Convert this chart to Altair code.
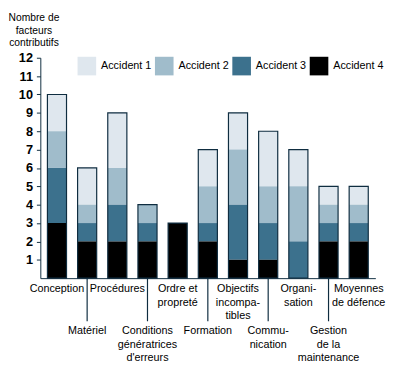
import altair as alt
import pandas as pd

categories = ["Conception", "Matériel", "Procédures", "Conditions", "Ordre", "Formation",
              "Objectifs", "Communication", "Organisation", "Gestion", "Moyennes"]
labels = ["Conception", "Matériel", "Procédures", "Conditions\ngénératrices\nd'erreurs",
          "Ordre et\npropreté", "Formation", "Objectifs\nincompa-\ntibles", "Commu-\nnication",
          "Organi-\nsation", "Gestion\nde la\nmaintenance", "Moyennes\nde défence"]
series = ["Accident 1", "Accident 2", "Accident 3", "Accident 4"]
acc1 = [2, 2, 3, 0, 0, 2, 2, 3, 2, 1, 1]
acc2 = [2, 1, 2, 1, 0, 2, 3, 2, 3, 1, 1]
acc3 = [3, 1, 2, 1, 0, 1, 3, 2, 2, 1, 1]
acc4 = [3, 2, 2, 2, 3, 2, 1, 1, 0, 2, 2]
yticks = list(range(1, 13))
colors = ["#dfe7ee", "#a0bccb", "#3c718d", "#000000"]
NAVY = "#0f2d40"

rows = []
for s, vals, o in zip(series, [acc1, acc2, acc3, acc4], [3, 2, 1, 0]):
    for c, v in zip(categories, vals):
        if v > 0:
            rows.append({"cat": c, "series": s, "value": v, "ord": o})
df = pd.DataFrame(rows)

tot = pd.DataFrame({"cat": categories,
                    "total": [a + b + c + d for a, b, c, d in zip(acc1, acc2, acc3, acc4)]})
lab = pd.DataFrame({"cat": categories, "label": labels,
                    "level": [i % 2 for i in range(len(categories))]})

FONT = "Liberation Sans"

xenc = alt.X("cat:N", sort=categories,
             scale=alt.Scale(paddingInner=0.367, paddingOuter=0.235),
             axis=alt.Axis(labels=False, ticks=False, title=None, domainColor=NAVY))
yscale = alt.Scale(domain=[0, 12], nice=False)
yaxis = alt.Axis(values=yticks,
                 title=["Nombre de", "facteurs", "contributifs"],
                 titleAngle=0, titleAlign="center", titleBaseline="alphabetic",
                 titleX=-7, titleY=-38, titleFont=FONT, titleFontSize=10.5,
                 titleFontWeight="normal", titleLineHeight=13, titleColor="black",
                 labelFont=FONT, labelFontWeight="bold",
                 labelFontSize=13, labelColor="black", labelOverlap=False,
                 labelBound=False, labelFlush=False,
                 tickColor=NAVY, domainColor=NAVY, tickSize=4, labelPadding=4,
                 grid=False)

bars = alt.Chart(df).mark_bar().encode(
    x=xenc,
    y=alt.Y("value:Q", stack="zero", scale=yscale, axis=yaxis),
    color=alt.Color("series:N", scale=alt.Scale(domain=series, range=colors),
                    legend=alt.Legend(title=None, orient="none", legendX=38, legendY=-1,
                                      direction="horizontal", columns=4, symbolType="square",
                                      symbolSize=361, symbolStrokeWidth=0, labelFont=FONT,
                                      labelFontSize=11, labelColor="black", labelOffset=5,
                                      columnPadding=3, padding=0)),
    order=alt.Order("ord:Q"),
)

outline = alt.Chart(tot).mark_bar(fillOpacity=0, stroke=NAVY, strokeWidth=1.2).encode(
    x=alt.X("cat:N", sort=categories, axis=alt.Axis(labels=False, ticks=False, title=None,
                                                     domainColor=NAVY)),
    y=alt.Y("total:Q", scale=yscale, axis=yaxis),
)

rules = alt.Chart(lab).transform_filter("datum.level == 1").mark_rule(
    color=NAVY, strokeWidth=1.2).encode(
    x=alt.X("cat:N", sort=categories), y=alt.value(225), y2=alt.value(269))

text_base = alt.Chart(lab).mark_text(font=FONT, fontSize=11, lineBreak="\n", lineHeight=14,
                                      baseline="top", align="center", color="black")
text_even = text_base.transform_filter("datum.level == 0").encode(
    x=alt.X("cat:N", sort=categories), y=alt.value(230), text="label:N")
text_odd = text_base.transform_filter("datum.level == 1").encode(
    x=alt.X("cat:N", sort=categories), y=alt.value(273), text="label:N")

chart = alt.layer(bars, outline, rules, text_even, text_odd).properties(
    width=342, height=225,
    autosize=alt.AutoSizeParams(type="none"),
    padding={"left": 33, "top": 47, "right": 17, "bottom": 92},
).configure_view(stroke=None).configure_axisY(labelOverlap=False)

chart.save("out.html", embed_options={"renderer": "svg", "actions": False})
